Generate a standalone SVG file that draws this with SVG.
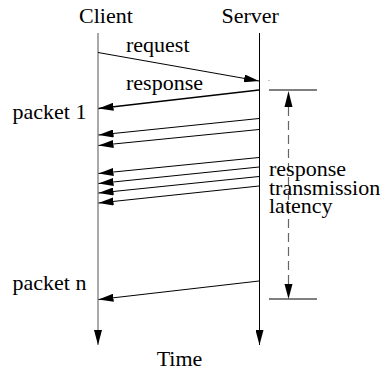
<svg xmlns="http://www.w3.org/2000/svg" width="386" height="371" viewBox="0 0 386 371" font-family="'Liberation Serif', 'DejaVu Serif', 'Times New Roman', serif">
<style>
text{font-family:'Liberation Serif','DejaVu Serif','Times New Roman',serif;font-size:22px;fill:#000}
.ln{stroke:#000;stroke-width:1;fill:none}
</style>
<defs>
<marker id="ah" viewBox="0 0 15 8" refX="15" refY="4" markerWidth="15" markerHeight="8" markerUnits="userSpaceOnUse" orient="auto">
<path d="M0,0 L15,4 L0,8 z" fill="#000"/>
</marker>
</defs>
<rect width="386" height="371" fill="#fff"/>
<g id="client">
<line x1="98" y1="33" x2="98" y2="345" stroke="#555" stroke-width="1" marker-end="url(#ah)"/>
<text x="79" y="23">Client</text>
</g>
<g id="server">
<line x1="259.5" y1="33" x2="259.5" y2="345" class="ln" marker-end="url(#ah)"/>
<text x="221.5" y="23">Server</text>
</g>
<g id="latency">
<line x1="269" y1="90" x2="317" y2="90" class="ln"/>
<line x1="269" y1="299" x2="317" y2="299" class="ln"/>
<line x1="288.5" y1="107" x2="288.5" y2="284" stroke="#666" stroke-width="1.2" stroke-dasharray="9,5"/>
<path d="M288.5,91 L292.5,107 L284.5,107 z" fill="#000"/>
<path d="M288.5,299 L292.5,284 L284.5,284 z" fill="#000"/>
<rect x="268.5" y="80" width="1" height="1" fill="#888"/>
<text x="269" y="175.5">response</text>
<text x="269" y="195">transmission</text>
<text x="269" y="213">latency</text>
</g>
<g id="connectors">
<line x1="98" y1="52.5" x2="259" y2="81" class="ln" marker-end="url(#ah)"/>
<line x1="259" y1="90" x2="98.5" y2="108.5" stroke="#000" stroke-width="1.6" marker-end="url(#ah)"/>
<line x1="259" y1="118.5" x2="98.5" y2="135" class="ln" marker-end="url(#ah)"/>
<line x1="259" y1="129.5" x2="98.5" y2="145.5" class="ln" marker-end="url(#ah)"/>
<line x1="259" y1="157.5" x2="98.5" y2="173.5" class="ln" marker-end="url(#ah)"/>
<line x1="259" y1="167" x2="98.5" y2="183.5" class="ln" marker-end="url(#ah)"/>
<line x1="259" y1="176.5" x2="98.5" y2="193" class="ln" marker-end="url(#ah)"/>
<line x1="259" y1="186" x2="98.5" y2="203" class="ln" marker-end="url(#ah)"/>
<line x1="259" y1="281" x2="98.5" y2="299.5" class="ln" marker-end="url(#ah)"/>
</g>
<g id="labels">
<text x="126" y="51.5">request</text>
<text x="126" y="89.5">response</text>
<text x="12.5" y="119">packet 1</text>
<text x="12.5" y="290">packet n</text>
<text x="179.5" y="366" text-anchor="middle">Time</text>
</g>
</svg>
